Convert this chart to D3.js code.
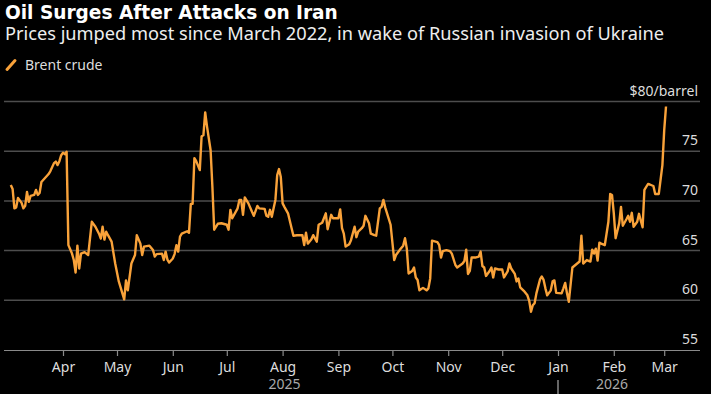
<!DOCTYPE html>
<html>
<head>
<meta charset="utf-8">
<script src="https://cdn.jsdelivr.net/npm/d3@7"></script>
<style>
  body { margin: 0; background: #000; }
  svg { display: block; font-family: 'Noto Sans', sans-serif; }
</style>
</head>
<body>
<div id="chart"></div>
<script>
// Brent crude, $/barrel
const dates = [
  '2025-03-03','2025-03-04','2025-03-05','2025-03-06','2025-03-07','2025-03-09','2025-03-10','2025-03-11','2025-03-12','2025-03-13',
  '2025-03-14','2025-03-16','2025-03-17','2025-03-18','2025-03-19','2025-03-20','2025-03-22','2025-03-24','2025-03-25','2025-03-27',
  '2025-03-28','2025-03-29','2025-03-30','2025-03-31','2025-04-01','2025-04-02','2025-04-03','2025-04-04','2025-04-06','2025-04-07',
  '2025-04-08','2025-04-09','2025-04-10','2025-04-11','2025-04-13','2025-04-15','2025-04-17','2025-04-19','2025-04-21','2025-04-22',
  '2025-04-23','2025-04-24','2025-04-25','2025-04-26','2025-04-28','2025-04-30','2025-05-02','2025-05-04','2025-05-05','2025-05-06',
  '2025-05-07','2025-05-09','2025-05-11','2025-05-12','2025-05-14','2025-05-15','2025-05-16','2025-05-19','2025-05-21','2025-05-22',
  '2025-05-23','2025-05-26','2025-05-27','2025-05-28','2025-05-29','2025-05-30','2025-06-01','2025-06-02','2025-06-03','2025-06-04',
  '2025-06-05','2025-06-06','2025-06-09','2025-06-10','2025-06-11','2025-06-12','2025-06-13','2025-06-14','2025-06-16','2025-06-17',
  '2025-06-18','2025-06-19','2025-06-20','2025-06-22','2025-06-23','2025-06-24','2025-06-26','2025-06-28','2025-07-01','2025-07-02',
  '2025-07-03','2025-07-04','2025-07-07','2025-07-08','2025-07-09','2025-07-10','2025-07-11','2025-07-13','2025-07-15','2025-07-16',
  '2025-07-18','2025-07-19','2025-07-22','2025-07-23','2025-07-24','2025-07-25','2025-07-26','2025-07-27','2025-07-28','2025-07-29',
  '2025-07-30','2025-07-31','2025-08-01','2025-08-02','2025-08-04','2025-08-06','2025-08-07','2025-08-09','2025-08-12','2025-08-13',
  '2025-08-14','2025-08-15','2025-08-17','2025-08-18','2025-08-20','2025-08-21','2025-08-23','2025-08-25','2025-08-26','2025-08-28',
  '2025-08-29','2025-09-01','2025-09-02','2025-09-03','2025-09-04','2025-09-05','2025-09-07','2025-09-08','2025-09-10','2025-09-11',
  '2025-09-12','2025-09-14','2025-09-15','2025-09-16','2025-09-18','2025-09-19','2025-09-21','2025-09-22','2025-09-24','2025-09-25',
  '2025-09-26','2025-09-27','2025-09-30','2025-10-02','2025-10-03','2025-10-05','2025-10-07','2025-10-08','2025-10-09','2025-10-10',
  '2025-10-12','2025-10-13','2025-10-14','2025-10-15','2025-10-16','2025-10-18','2025-10-20','2025-10-21','2025-10-22','2025-10-23',
  '2025-10-26','2025-10-27','2025-10-28','2025-10-29','2025-10-31','2025-11-02','2025-11-03','2025-11-05','2025-11-06','2025-11-09',
  '2025-11-10','2025-11-11','2025-11-12','2025-11-13','2025-11-14','2025-11-16','2025-11-18','2025-11-19','2025-11-20','2025-11-21',
  '2025-11-22','2025-11-24','2025-11-25','2025-11-26','2025-11-27','2025-11-29','2025-12-01','2025-12-02','2025-12-04','2025-12-05',
  '2025-12-06','2025-12-08','2025-12-09','2025-12-10','2025-12-11','2025-12-13','2025-12-15','2025-12-16','2025-12-17','2025-12-18',
  '2025-12-19','2025-12-20','2025-12-22','2025-12-23','2025-12-24','2025-12-25','2025-12-26','2025-12-28','2025-12-29','2025-12-30',
  '2025-12-31','2026-01-03','2026-01-04','2026-01-05','2026-01-06','2026-01-07','2026-01-09','2026-01-11','2026-01-13','2026-01-14',
  '2026-01-15','2026-01-17','2026-01-19','2026-01-20','2026-01-21','2026-01-22','2026-01-23','2026-01-24','2026-01-25','2026-01-27',
  '2026-01-29','2026-01-30','2026-01-31','2026-02-01','2026-02-02','2026-02-04','2026-02-05','2026-02-06','2026-02-08','2026-02-09',
  '2026-02-10','2026-02-11','2026-02-12','2026-02-14','2026-02-15','2026-02-16','2026-02-17','2026-02-18','2026-02-20','2026-02-21',
  '2026-02-23','2026-02-24','2026-02-26','2026-02-28','2026-03-01','2026-03-02'
]
const brent = [
  71.6, 71.2, 69.25, 69.35, 70.3, 69.8, 69.25, 69.5, 70.9, 69.9,
  70.5, 70.6, 71.1, 70.6, 70.8, 71.9, 72.3, 72.7, 73.0, 73.8,
  73.95, 73.6, 74.0, 74.6, 74.85, 74.7, 74.95, 65.55, 64.7, 64.05,
  62.8, 65.5, 63.2, 64.7, 64.85, 64.55, 67.9, 67.4, 66.7, 66.2,
  67.4, 66.1, 66.9, 66.55, 65.9, 63.7, 61.9, 60.7, 60.1, 62.0,
  61.0, 63.7, 64.55, 66.55, 65.7, 64.55, 65.4, 65.5, 65.05, 64.4,
  64.65, 64.7, 64.05, 64.9, 64.1, 63.8, 64.2, 64.65, 65.55, 64.9,
  66.4, 66.7, 66.95, 66.8, 69.7, 69.7, 74.3, 74.0, 73.1, 76.5,
  76.6, 78.9, 77.5, 75.1, 71.4, 67.1, 67.7, 67.75, 67.6, 67.1,
  69.1, 68.25, 69.25, 70.1, 70.1, 68.6, 70.35, 69.75, 68.9, 68.5,
  69.5, 69.25, 69.2, 68.5, 68.4, 69.1, 68.4, 69.25, 70.1, 72.6,
  73.2, 72.4, 69.75, 69.4, 68.75, 67.25, 66.5, 66.55, 66.55, 65.55,
  66.8, 65.7, 66.15, 66.55, 65.9, 67.6, 67.8, 68.75, 67.15, 68.6,
  68.25, 68.25, 69.15, 67.25, 66.7, 65.4, 65.65, 66.05, 67.4, 66.35,
  66.9, 67.25, 67.5, 68.5, 67.75, 66.7, 66.55, 66.5, 69.25, 69.4,
  70.1, 69.35, 67.6, 64.05, 64.55, 65.05, 65.5, 66.25, 65.2, 62.7,
  62.95, 63.3, 62.3, 62.05, 61.0, 61.25, 61.0, 61.2, 62.2, 66.0,
  65.85, 65.55, 64.3, 64.95, 65.05, 64.95, 64.7, 63.55, 63.3, 63.7,
  63.95, 65.1, 62.65, 62.95, 64.3, 64.3, 64.4, 64.9, 63.45, 63.3,
  62.45, 62.95, 63.3, 62.3, 63.2, 63.1, 63.1, 62.3, 62.9, 63.7,
  63.2, 62.65, 61.9, 62.2, 61.3, 60.95, 60.5, 59.95, 58.85, 59.5,
  59.7, 60.7, 62.1, 62.4, 62.05, 61.2, 60.5, 61.0, 61.9, 62.0,
  60.75, 60.7, 61.2, 61.75, 60.7, 59.85, 63.3, 63.6, 63.9, 66.5,
  63.7, 64.05, 63.9, 65.1, 64.7, 65.2, 64.0, 65.8, 65.7, 65.55,
  67.9, 70.7, 70.6, 68.75, 66.25, 67.75, 69.4, 67.5, 68.15, 68.5,
  67.9, 68.8, 67.4, 67.9, 68.7, 68.0, 67.35, 71.1, 71.7, 71.65,
  71.5, 70.7, 70.7, 73.6, 77.1, 79.5
]
const yTicks = [60, 65, 70, 75, 80]
const monthTicks = ['2025-04-01','2025-05-01','2025-06-01','2025-07-01','2025-08-01','2025-09-01',
  '2025-10-01','2025-11-01','2025-12-01','2026-01-01','2026-02-01','2026-03-01']
const yearBreak = '2026-01-01'
const yearLabels = ['2025', '2026']

const width = 711
const height = 394
const orange = '#f9a23a'
const parse = d3.timeParse('%Y-%m-%d')

const data = dates.map((d, i) => ({ date: parse(d), value: brent[i] }))

const svg = d3.select('#chart').append('svg')
  .attr('width', width)
  .attr('height', height)

svg.append('rect').attr('width', width).attr('height', height).attr('fill', '#000')

// 标题
const title = svg.append('text')
  .attr('x', 5).attr('y', 19)
  .attr('fill', '#fff')
  .attr('font-family', "'DejaVu Sans', sans-serif")
  .attr('font-weight', 700)
  .attr('font-size', 18)
  .text('Oil Surges After Attacks on Iran')
const subtitle = svg.append('text')
  .attr('x', 5).attr('y', 40)
  .attr('fill', '#eee')
  .attr('font-size', 17)
  .text('Prices jumped most since March 2022, in wake of Russian invasion of Ukraine')

// fit widths to the reference
function fit (sel, target) {
  const fs = +sel.attr('font-size')
  const w = sel.node().getComputedTextLength()
  sel.attr('font-size', (fs * target / w).toFixed(2))
}
fit(title, 333)
fit(subtitle, 660)

// legend
svg.append('line')
  .attr('x1', 7).attr('y1', 69.5).attr('x2', 15).attr('y2', 60.5)
  .attr('stroke', orange).attr('stroke-width', 3).attr('stroke-linecap', 'round')
svg.append('text')
  .attr('x', 25).attr('y', 70)
  .attr('fill', '#ddd')
  .attr('font-size', 14)
  .text('Brent crude')

// scales
const x = d3.scaleTime()
  .domain([parse('2025-03-01'), parse('2026-03-01')])
  .range([7.2, 664.2])
const y = d3.scaleLinear()
  .domain([55, 80])
  .range([350, 101.5])

const gridLeft = 4
const gridRight = 700

// gridlines + y labels
const grid = svg.append('g')
grid.selectAll('line')
  .data(yTicks)
  .enter()
  .append('line')
  .attr('x1', gridLeft).attr('x2', gridRight)
  .attr('y1', d => y(d)).attr('y2', d => y(d))
  .attr('stroke', '#4d4d4d').attr('stroke-width', 1.5)

svg.append('g').selectAll('text')
  .data([55].concat(yTicks))
  .enter()
  .append('text')
  .attr('x', 698)
  .attr('y', d => y(d) - 6)
  .attr('text-anchor', 'end')
  .attr('fill', '#ddd')
  .attr('font-size', 14)
  .text(d => d === 80 ? '$80/barrel' : d)

// x axis
svg.append('line')
  .attr('x1', gridLeft).attr('x2', gridRight)
  .attr('y1', y(55) + 0.5).attr('y2', y(55) + 0.5)
  .attr('stroke', '#8a8a8a').attr('stroke-width', 1.2)

const xAxis = d3.axisBottom(x)
  .tickValues(monthTicks.map(parse))
  .tickSize(5)
  .tickPadding(6)
  .tickFormat(d3.timeFormat('%b'))

const gx = svg.append('g')
  .attr('transform', 'translate(0,' + (y(55) + 1) + ')')
  .call(xAxis)
gx.select('.domain').remove()
gx.selectAll('.tick line').attr('stroke', '#8a8a8a').attr('stroke-width', 1.2)
gx.selectAll('.tick text')
  .attr('fill', '#ddd')
  .attr('font-size', 14)
  .attr('font-family', "'Noto Sans', sans-serif")

// year labels, centred in each year's span
const xStart = x(data[0].date)
const xEnd = x(data[data.length - 1].date)
const xBreak = x(parse(yearBreak))
svg.append('line')
  .attr('x1', xBreak).attr('x2', xBreak)
  .attr('y1', 380).attr('y2', 394)
  .attr('stroke', '#aaa').attr('stroke-width', 1.2)
svg.append('g').selectAll('text')
  .data(yearLabels)
  .enter()
  .append('text')
  .attr('x', (d, i) => i === 0 ? (xStart + xBreak) / 2 : (xBreak + xEnd) / 2)
  .attr('y', 389)
  .attr('text-anchor', 'middle')
  .attr('fill', '#aaa')
  .attr('font-size', 14)
  .text(d => d)

// price line
const line = d3.line()
  .x(d => x(d.date))
  .y(d => y(d.value))

svg.append('path')
  .datum(data)
  .attr('d', line)
  .attr('fill', 'none')
  .attr('stroke', orange)
  .attr('stroke-width', 2.4)
  .attr('stroke-linejoin', 'round')
</script>
</body>
</html>
